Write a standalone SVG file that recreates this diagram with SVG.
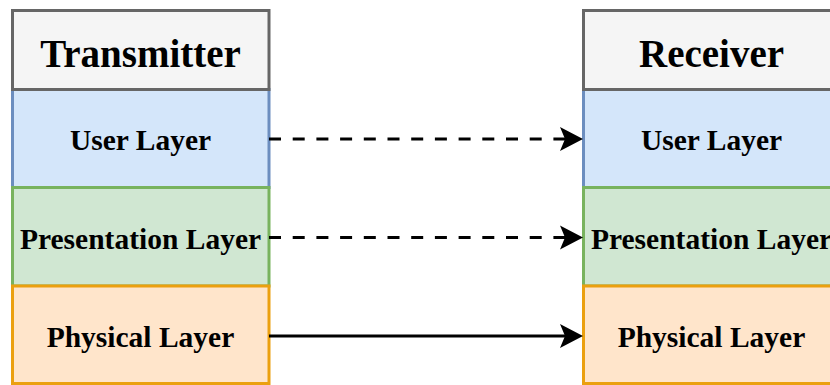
<svg xmlns="http://www.w3.org/2000/svg" width="830" height="385" viewBox="0 0 830 385">
  <style>
    .hdr { fill: #f5f5f5; stroke: #666666; stroke-width: 3; }
    .usr { fill: #d4e6fa; stroke: #6c8ebf; stroke-width: 3; }
    .pre { fill: #d0e7d2; stroke: #78b35e; stroke-width: 3; }
    .phy { fill: #ffe5cb; stroke: #eba010; stroke-width: 3; }
    text { font-family: "Liberation Serif", "Times New Roman", serif; font-weight: bold; fill: #000000; text-anchor: middle; }
    .t { font-size: 39px; }
    .l { font-size: 29.5px; }
    .conn { fill: none; stroke: #000000; stroke-width: 3; }
    .dash { stroke-dasharray: 12 11.7; }
  </style>
  <defs>
    <marker id="arrow" markerUnits="userSpaceOnUse" markerWidth="24" markerHeight="26" viewBox="0 0 24 26" refX="6" refY="13" orient="auto">
      <path d="M0,1 L23,13 L0,25 L5,13 Z" fill="#000000"/>
    </marker>
  </defs>

  <g id="tx-user"><rect class="usr" x="12.5" y="89.5" width="256.5" height="98"/><text class="l" x="140.5" y="150">User Layer</text></g>
  <g id="tx-pres"><rect class="pre" x="12.5" y="187.5" width="256.5" height="98.5"/><text class="l" x="140.5" y="248.5">Presentation Layer</text></g>
  <g id="tx-phys"><rect class="phy" x="12.5" y="286" width="256.5" height="97.5"/><text class="l" x="140.5" y="347">Physical Layer</text></g>
  <g id="tx-header"><rect class="hdr" x="12.5" y="10.5" width="256.5" height="79"/><text class="t" x="140.5" y="66.5">Transmitter</text></g>

  <g id="rx-user"><rect class="usr" x="583.5" y="89.5" width="256.5" height="98"/><text class="l" x="711.5" y="150">User Layer</text></g>
  <g id="rx-pres"><rect class="pre" x="583.5" y="187.5" width="256.5" height="98.5"/><text class="l" x="711.5" y="248.5">Presentation Layer</text></g>
  <g id="rx-phys"><rect class="phy" x="583.5" y="286" width="256.5" height="97.5"/><text class="l" x="711.5" y="347">Physical Layer</text></g>
  <g id="rx-header"><rect class="hdr" x="583.5" y="10.5" width="256.5" height="79"/><text class="t" x="711.5" y="66.5">Receiver</text></g>

  <g id="connectors">
    <path class="conn dash" d="M269,139 L566,139" marker-end="url(#arrow)"/>
    <path class="conn dash" d="M269,237.5 L566,237.5" marker-end="url(#arrow)"/>
    <path class="conn" d="M269,336 L566,336" marker-end="url(#arrow)"/>
  </g>
</svg>
